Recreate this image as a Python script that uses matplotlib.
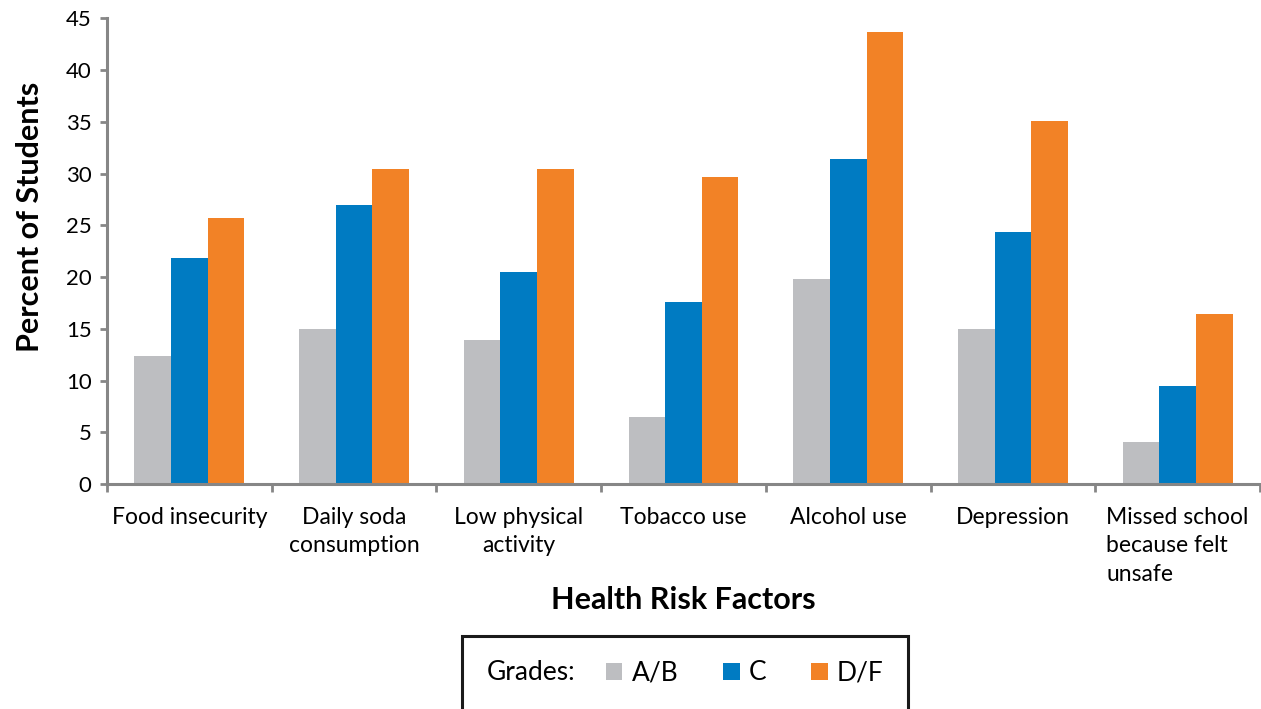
import matplotlib.pyplot as plt
import numpy as np
from matplotlib.patches import Rectangle

plt.rcParams['font.family'] = ['Lato', 'DejaVu Sans']

factors = ['Food insecurity', 'Daily soda\nconsumption', 'Low physical\nactivity',
           'Tobacco use', 'Alcohol use', 'Depression',
           'Missed school\nbecause felt\nunsafe']
grade_ab = [12.4, 15.0, 13.9, 6.5, 19.8, 15.0, 4.1]
grade_c = [21.8, 27.0, 20.5, 17.6, 31.4, 24.4, 9.5]
grade_df = [25.7, 30.4, 30.4, 29.7, 43.7, 35.1, 16.4]

series = [('A/B', grade_ab, '#bdbec1'),
          ('C', grade_c, '#007bc2'),
          ('D/F', grade_df, '#f28226')]

axis_grey = '#868686'

fig = plt.figure(figsize=(12.61, 7.09), dpi=100)
ax = fig.add_axes([107 / 1261, 1 - 484.3 / 709, 1153 / 1261, (484.3 - 18.1) / 709])

x = np.arange(len(factors))
w = 1 / 4.5   # gap width of 150%
bars = []
for i, (name, vals, col) in enumerate(series):
    b = ax.bar(x + (i - 1) * w, vals, width=w, color=col, label=name, zorder=2)
    bars.append(b)

ax.set_xlim(-0.5, len(factors) - 0.5)
ax.set_ylim(0, 45)
ax.set_yticks(np.arange(0, 46, 5))

for s in ['top', 'right']:
    ax.spines[s].set_visible(False)
for s in ['left', 'bottom']:
    ax.spines[s].set_color(axis_grey)
    ax.spines[s].set_linewidth(2.2)

ax.tick_params(axis='y', length=5, width=2, color=axis_grey, labelsize=16, pad=6)
ax.set_xticks(x)
ax.set_xticklabels(factors, fontsize=16.5, linespacing=1.45, va='top')
ax.set_xticks(np.arange(-0.5, len(factors)), minor=True)
ax.tick_params(axis='x', which='major', length=0, pad=16)
ax.tick_params(axis='x', which='minor', length=6, width=2, color=axis_grey)
ax.get_xticklabels()[-1].set_multialignment('left')

ax.set_ylabel('Percent of Students', fontsize=22, fontweight='bold', va='center')
ax.yaxis.set_label_coords(-77 / 1153, (484.3 - 217) / 466.2)
ax.set_xlabel('Health Risk Factors', fontsize=22, fontweight='bold', va='center')
ax.xaxis.set_label_coords(0.5, (484.3 - 600) / 466.2)

# legend box, running off the bottom edge
fig.add_artist(Rectangle((462 / 1261, -0.05), (908 - 462) / 1261, 0.05 + (709 - 636) / 709,
                         transform=fig.transFigure, fill=False, edgecolor='#1a1a1a',
                         linewidth=2.2, clip_on=False))
fig.text(487 / 1261, 1 - 673 / 709, 'Grades:', fontsize=19, va='center', ha='left')
fig.legend(handles=bars, loc='center left', bbox_to_anchor=(606 / 1261, 1 - 673 / 709),
           ncol=3, frameon=False, fontsize=19, handlelength=0.62, handleheight=0.62,
           handletextpad=0.35, columnspacing=1.7, borderpad=0, borderaxespad=0)

fig.savefig('out.png', dpi=100)
